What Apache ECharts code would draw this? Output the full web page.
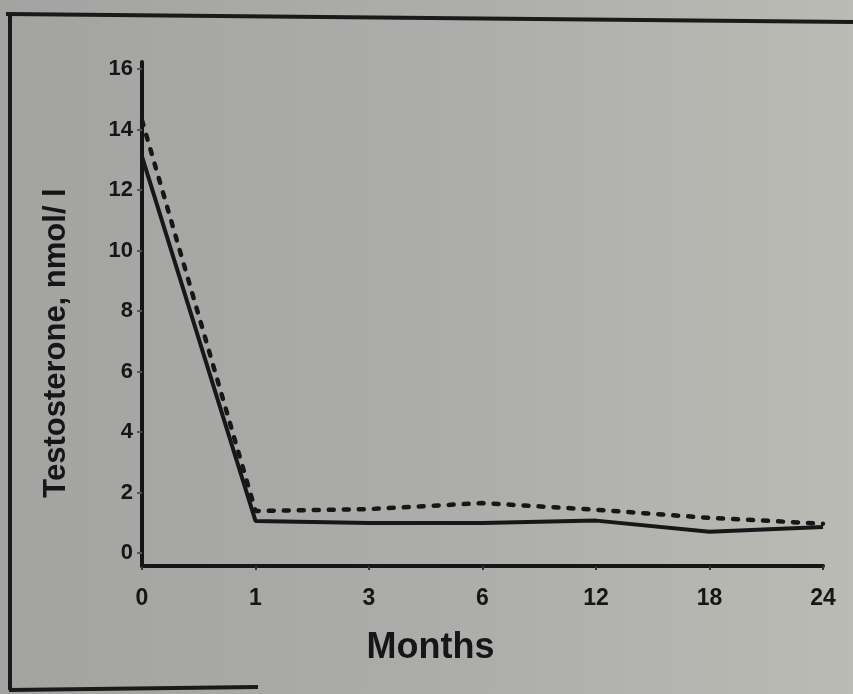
<!DOCTYPE html>
<html>
<head>
<meta charset="utf-8">
<script src="https://cdn.jsdelivr.net/npm/echarts@6/dist/echarts.min.js"></script>
<style>
  html, body { margin: 0; padding: 0; }
  #chart { width: 853px; height: 694px; }
</style>
</head>
<body>
<div id="chart"></div>
<script>
// Follow-up visits (months) and mean serum testosterone for the two groups
const months = ['0', '1', '3', '6', '12', '18', '24'];
const groupSolid = [13.1, 1.06, 0.99, 0.99, 1.07, 0.70, 0.86];
const groupDotted = [14.3, 1.39, 1.45, 1.65, 1.43, 1.16, 0.97];
const yTickValues = [0, 2, 4, 6, 8, 10, 12, 14, 16];

const ink = '#151515';
const chart = echarts.init(document.getElementById('chart'));

chart.setOption({
  animation: false,
  backgroundColor: {
    type: 'linear', x: 0, y: 0, x2: 1, y2: 0,
    colorStops: [
      { offset: 0, color: '#a3a3a2' },
      { offset: 0.55, color: '#adadab' },
      { offset: 1, color: '#babbb4' }
    ]
  },
  grid: { left: 142, right: 30, top: 62, height: 504 },
  xAxis: {
    type: 'category',
    data: months,
    boundaryGap: false,
    name: 'Months',
    nameLocation: 'middle',
    nameGap: 64,
    nameTextStyle: { fontFamily: 'Liberation Sans', fontWeight: 'bold', fontSize: 36, color: '#161616', padding: [0, 104, 0, 0] },
    axisLine: { onZero: false, lineStyle: { color: ink, width: 4 } },
    axisTick: { show: true, length: 4, lineStyle: { color: '#333', width: 2 } },
    axisLabel: { margin: 21, fontFamily: 'Liberation Sans', fontWeight: 'bold', fontSize: 23, color: '#161616' },
    splitLine: { show: false }
  },
  yAxis: {
    type: 'value',
    min: -0.43,
    max: 16.23,
    name: 'Testosterone, nmol/ l',
    nameLocation: 'middle',
    nameGap: 70,
    nameRotate: 90,
    nameTextStyle: { fontFamily: 'Liberation Sans', fontWeight: 'bold', fontSize: 31, color: '#161616', padding: [0, 58, 0, 0] },
    axisLine: { show: true, onZero: false, lineStyle: { color: ink, width: 4 } },
    axisTick: { show: true, customValues: yTickValues, length: 5, lineStyle: { color: '#555', width: 2 } },
    axisLabel: { customValues: yTickValues, margin: 9, fontFamily: 'Liberation Sans', fontWeight: 'bold', fontSize: 22, color: '#161616' },
    splitLine: { show: false }
  },
  series: [
    {
      name: 'solid',
      type: 'line',
      data: groupSolid,
      symbol: 'none',
      lineStyle: { color: '#171717', width: 4 }
    },
    {
      name: 'dotted',
      type: 'line',
      data: groupDotted,
      symbol: 'none',
      lineStyle: { color: '#171717', width: 4.5, type: [5, 10], cap: 'round' }
    }
  ],
  graphic: [
    // printed frame around the figure
    { type: 'line', shape: { x1: 6, y1: 14, x2: 853, y2: 22 }, style: { stroke: '#1a1a1a', lineWidth: 4 } },
    { type: 'line', shape: { x1: 10, y1: 13, x2: 10, y2: 690 }, style: { stroke: '#1a1a1a', lineWidth: 4 } },
    { type: 'line', shape: { x1: 9, y1: 690, x2: 258, y2: 687 }, style: { stroke: '#1a1a1a', lineWidth: 4 } }
  ]
});
</script>
</body>
</html>
